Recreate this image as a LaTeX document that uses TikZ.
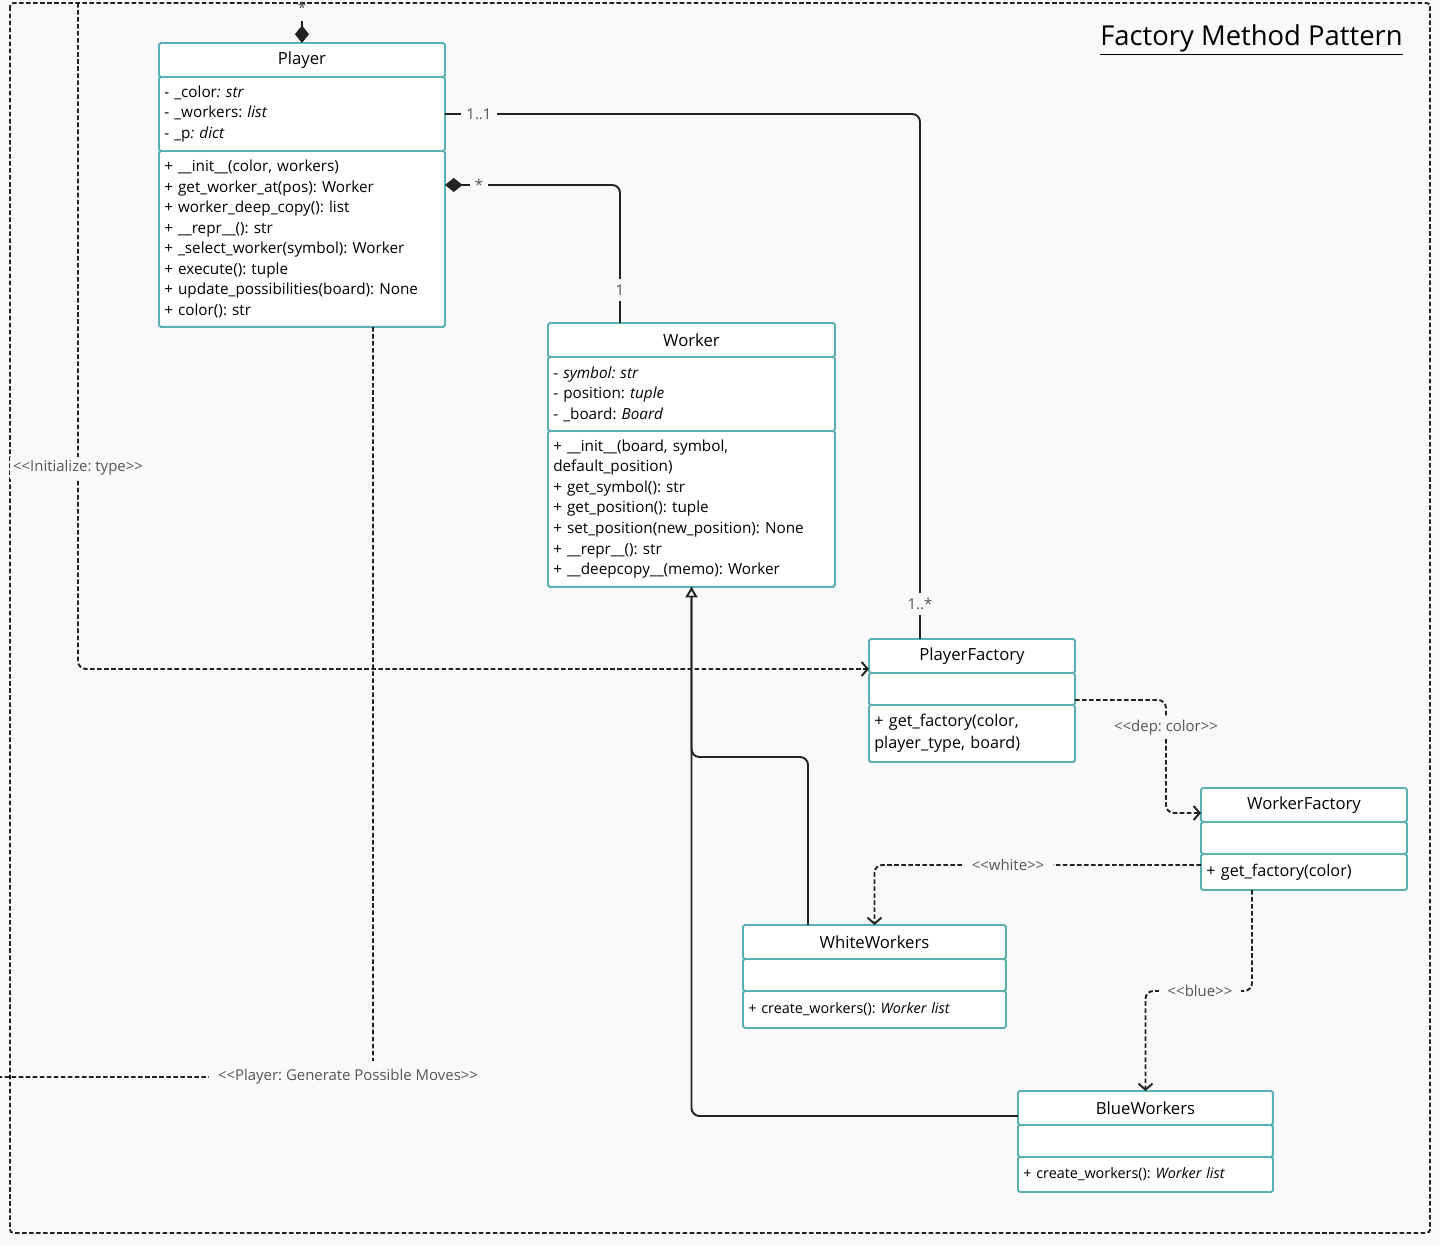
\documentclass[tikz,border=0pt]{standalone}
\usepackage{fontspec}
\setmainfont{Open Sans}
\usetikzlibrary{arrows.meta,calc}
\frenchspacing

\definecolor{bgcol}{HTML}{F9F9FB}
\definecolor{clsline}{HTML}{5BB0B1}
\definecolor{lblgray}{HTML}{555555}
\definecolor{linecol}{HTML}{222222}

\newcommand{\sopen}{<\kern0pt<}
\newcommand{\sclose}{>\kern0pt>}

\tikzset{
  clshead/.style={draw=clsline, fill=white, line width=1.1pt, rounded corners=1pt,
    anchor=north west, inner sep=0pt, outer sep=0pt, minimum height=0.68cm,
    font=\fontsize{9.5}{12}\selectfont},
  clspart/.style={draw=clsline, fill=white, line width=1.1pt, rounded corners=1pt,
    anchor=north west, inner xsep=3pt, inner ysep=0pt, outer sep=0pt, align=left,
    font=\fontsize{8.7}{11.7}\selectfont},
  solidline/.style={draw=linecol, line width=1.1pt, rounded corners=4.5pt},
  dashline/.style={solidline, dash pattern=on 2.6pt off 1.4pt},
  depline/.style={dashline, -{Straight Barb[length=3.5pt,width=8pt,line width=1.1pt]}},
  inhline/.style={solidline, -{Triangle[open,length=6pt,width=7pt,fill=bgcol]}},
  compline/.style={solidline, {Diamond[length=10pt,width=8pt]}-},
  mult/.style={fill=bgcol, text=lblgray, inner sep=3pt, font=\fontsize{8.5}{10}\selectfont},
  lbl/.style={fill=bgcol, text=lblgray, inner sep=2pt, font=\fontsize{8.5}{10}\selectfont},
}

\begin{document}
\begin{tikzpicture}[x=0.02cm,y=-0.02cm]
\fill[bgcol] (0,0) rectangle (1440,1246);
\useasboundingbox (0,0) rectangle (1440,1246);
\draw[dashline, rounded corners=2pt] (10,3) rectangle (1430,1233); % frame

% Player
\node[clshead, minimum width=5.72cm] (player) at (159,43) {Player};
\node[clspart, text width=5.51cm, minimum height=1.48cm] (playerattr) at (player.south west)
  {- \_color\textit{: str}\\- \_workers: \textit{list}\\- \_p\textit{: dict}};
\node[clspart, text width=5.51cm, minimum height=3.52cm] (playermeth) at (playerattr.south west)
  {+ \_\_init\_\_(color, workers)\\+ get\_worker\_at(pos): Worker\\+ worker\_deep\_copy(): list\\
   + \_\_repr\_\_(): str\\+ \_select\_worker(symbol): Worker\\+ execute(): tuple\\
   + update\_possibilities(board): None\\+ color(): str};

% Worker
\node[clshead, minimum width=5.74cm] (worker) at (548,323) {Worker};
\node[clspart, text width=5.53cm, minimum height=1.48cm] (workerattr) at (worker.south west)
  {- \textit{symbol: str}\\- position: \textit{tuple}\\- \_board: \textit{Board}};
\node[clspart, text width=5.53cm, minimum height=3.12cm] (workermeth) at (workerattr.south west)
  {+ \_\_init\_\_(board, symbol,\\default\_position)\\+ get\_symbol(): str\\+ get\_position(): tuple\\
   + set\_position(new\_position): None\\+ \_\_repr\_\_(): str\\+ \_\_deepcopy\_\_(memo): Worker};

% PlayerFactory
\node[clshead, minimum width=4.12cm] (pf) at (869,639) {PlayerFactory};
\node[clspart, minimum width=4.12cm, minimum height=0.64cm] (pfattr) at (pf.south west) {};
\node[clspart, text width=3.91cm, minimum height=1.14cm, font=\fontsize{9.2}{12.5}\selectfont] (pfmeth) at (pfattr.south west)
  {+ get\_factory(color,\\player\_type, board)};

% WorkerFactory
\node[clshead, minimum width=4.12cm] (wf) at (1201,788) {WorkerFactory};
\node[clspart, minimum width=4.12cm, minimum height=0.64cm] (wfattr) at (wf.south west) {};
\node[clspart, text width=3.91cm, minimum height=0.72cm, font=\fontsize{9.2}{12.5}\selectfont] (wfmeth) at (wfattr.south west)
  {+ get\_factory(color)};

% WhiteWorkers
\node[clshead, minimum width=5.26cm] (ww) at (743,925) {WhiteWorkers};
\node[clspart, minimum width=5.26cm, minimum height=0.64cm] (wwattr) at (ww.south west) {};
\node[clspart, text width=5.05cm, minimum height=0.74cm, font=\fontsize{8.2}{11}\selectfont] (wwmeth) at (wwattr.south west)
  {+ create\_workers(): \textit{Worker list}};

% BlueWorkers
\node[clshead, minimum width=5.10cm] (bw) at (1018,1091) {BlueWorkers};
\node[clspart, minimum width=5.10cm, minimum height=0.64cm] (bwattr) at (bw.south west) {};
\node[clspart, text width=4.89cm, minimum height=0.70cm, font=\fontsize{8.2}{11}\selectfont] (bwmeth) at (bwattr.south west)
  {+ create\_workers(): \textit{Worker list}};

% title
\node[anchor=east, inner sep=0pt, font=\fontsize{15.6}{19}\selectfont] (title) at (1403,40) {\underline{Factory Method Pattern}};

% composition on top of Player
\draw[compline] (player.north) -- ++(0,-22);
\node[text=lblgray, inner sep=1pt, font=\fontsize{8.5}{10}\selectfont] (mtop) at (302,8) {*};

% Player -- PlayerFactory
\draw[solidline] (playerattr.east) -| ($(pf.north west)+(51,0)$);
\node[mult] (m11) at ($(playerattr.east)+(34,0)$) {1..1};
\node[mult] (m1n) at ($(pf.north west)+(51,-35)$) {1..*};

% Player <>-- Worker
\draw[compline] ($(playermeth.north east)+(0,34)$) -| ($(worker.north west)+(72,0)$);
\node[mult] (mstar) at ($(playermeth.north east)+(34,34)$) {*};
\node[mult] (mone) at ($(worker.north west)+(72,-33)$) {1};

% Initialize: type
\coordinate (initsrc) at (78,3);
\draw[depline] (initsrc) |- ($(pf.south west)+(0,-4)$);
\node[lbl] (initlbl) at (78,468) {\sopen Initialize: type\sclose};

% Player: Generate Possible Moves
\coordinate (genend) at (0,1077);
\draw[dashline] ($(playermeth.south west)+(214,0)$) |- (genend);
\node[lbl, inner xsep=5pt, inner ysep=5pt] (genlbl) at (348,1077) {\sopen Player: Generate Possible Moves\sclose};

% inheritance
\draw[solidline] ($(ww.north west)+(65,0)$) -- ++(0,-168) -| (workermeth.south);
\draw[inhline] ($(bw.south west)+(0,-9)$) -| (workermeth.south);

% factories
\draw[depline] ($(pfattr.south east)+(0,-5)$) -- ++(91,0) |- ($(wf.south west)+(0,-9)$);
\node[lbl] (deplbl) at (1166,728) {\sopen dep: color\sclose};
\draw[depline] ($(wfmeth.west)+(0,-7)$) -| (ww.north);
\node[lbl, inner xsep=5pt] (whitelbl) at (1008,865) {\sopen white\sclose};
\draw[depline] ($(wfmeth.south west)+(51,0)$) -- ++(0,101) -| (bw.north);
\node[lbl, inner xsep=5pt] (bluelbl) at (1200,991) {\sopen blue\sclose};

\end{tikzpicture}
\end{document}
